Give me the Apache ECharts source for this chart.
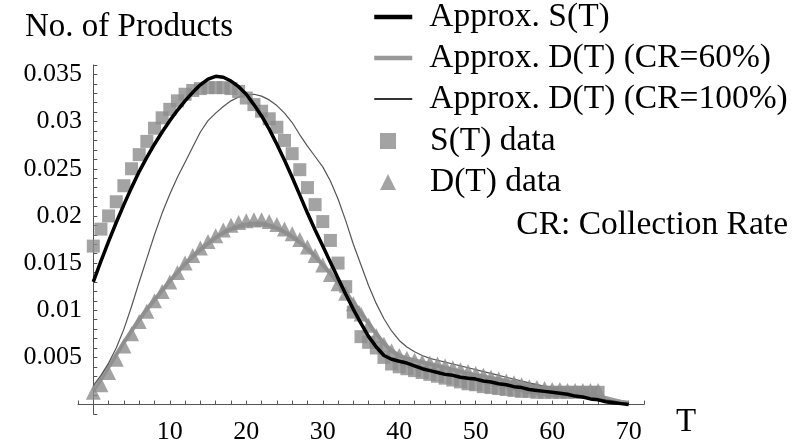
<!DOCTYPE html>
<html>
<head>
<meta charset="utf-8">
<script src="https://cdn.jsdelivr.net/npm/echarts@6/dist/echarts.min.js"></script>
<style>
html,body{margin:0;padding:0;background:#fff;}
#chart{width:805px;height:443px;}
</style>
</head>
<body>
<div id="chart"></div>
<script>
// T values for the approximation curves
const tLine = [0,1,2,3,4,5,6,7,8,9,10,11,12,13,14,15,16,17,18,19,20,21,22,23,24,25,26,27,28,29,30,31,32,33,34,35,36,37,38,39,40,41,42,43,44,45,46,47,48,49,50,51,52,53,54,55,56,57,58,59,60,61,62,63,64,65,66,67,68,69,70];
// T values for the data points
const tData = [0,1,2,3,4,5,6,7,8,9,10,11,12,13,14,15,16,17,18,19,20,21,22,23,24,25,26,27,28,29,30,31,32,33,34,35,36,37,38,39,40,41,42,43,44,45,46,47,48,49,50,51,52,53,54,55,56,57,58,59,60,61,62,63,64,65,66];

const approxS = [0.0130,0.0152,0.0173,0.0193,0.0212,0.0230,0.0247,0.0262,0.0276,0.0289,0.0301,0.0312,0.0322,0.0331,0.0339,0.0345,0.0348,0.0347,0.0343,0.0337,0.0329,0.0318,0.0306,0.0292,0.0276,0.0259,0.0241,0.0222,0.0203,0.0185,0.0168,0.0151,0.0134,0.0117,0.0101,0.0086,0.0072,0.0061,0.0052,0.0048,0.0046,0.0044,0.0041,0.0038,0.0036,0.0034,0.0032,0.0031,0.0029,0.0028,0.0027,0.0025,0.0024,0.0022,0.0021,0.0019,0.0018,0.0016,0.0015,0.0014,0.0013,0.0012,0.0011,0.0009,0.0008,0.0006,0.0005,0.0003,0.0002,0.0001,0.0000];

const approxD60 = [0.0015,0.0027,0.0040,0.0053,0.0066,0.0078,0.0090,0.0101,0.0111,0.0121,0.0131,0.0140,0.0149,0.0157,0.0164,0.0171,0.0177,0.0182,0.0186,0.0189,0.0191,0.0192,0.0192,0.0190,0.0187,0.0183,0.0178,0.0172,0.0165,0.0157,0.0148,0.0139,0.0129,0.0119,0.0108,0.0097,0.0086,0.0075,0.0065,0.0057,0.0052,0.0049,0.0047,0.0045,0.0043,0.0041,0.0039,0.0037,0.0035,0.0033,0.0031,0.0030,0.0028,0.0027,0.0025,0.0024,0.0022,0.0021,0.0020,0.0018,0.0017,0.0016,0.0014,0.0013,0.0012,0.0010,0.0008,0.0007,0.0005,0.0003,0.0002];

const approxD100 = [0.0020,0.0031,0.0044,0.0060,0.0080,0.0104,0.0130,0.0155,0.0180,0.0203,0.0223,0.0241,0.0257,0.0273,0.0289,0.0301,0.0309,0.0316,0.0322,0.0326,0.0328,0.0329,0.0327,0.0323,0.0317,0.0309,0.0299,0.0286,0.0274,0.0263,0.0252,0.0237,0.0218,0.0195,0.0170,0.0148,0.0126,0.0107,0.0091,0.0078,0.0068,0.0061,0.0056,0.0052,0.0049,0.0047,0.0045,0.0043,0.0041,0.0039,0.0037,0.0035,0.0033,0.0031,0.0029,0.0027,0.0025,0.0023,0.0021,0.0019,0.0017,0.0015,0.0013,0.0012,0.0010,0.0008,0.0007,0.0005,0.0004,0.0002,0.0001];

const sData = [0.0168,0.0186,0.0200,0.0215,0.0232,0.0250,0.0265,0.0279,0.0293,0.0304,0.0313,0.0322,0.0329,0.0333,0.0335,0.0336,0.0336,0.0336,0.0335,0.0332,0.0325,0.0318,0.0311,0.0303,0.0294,0.0280,0.0266,0.0249,0.0230,0.0212,0.0194,0.0174,0.0150,0.0125,0.0098,0.0072,0.0066,0.0060,0.0050,0.0043,0.0040,0.0038,0.0036,0.0034,0.0032,0.0030,0.0028,0.0026,0.0024,0.0022,0.0021,0.0019,0.0018,0.0017,0.0016,0.0015,0.0014,0.0014,0.0013,0.0013,0.0013,0.0013,0.0013,0.0013,0.0013,0.0013,0.0013];

const dData = [0.0013,0.0021,0.0034,0.0048,0.0062,0.0075,0.0088,0.0099,0.0110,0.0120,0.0130,0.0140,0.0150,0.0158,0.0166,0.0173,0.0179,0.0185,0.0190,0.0193,0.0195,0.0196,0.0196,0.0194,0.0191,0.0186,0.0181,0.0175,0.0167,0.0158,0.0148,0.0138,0.0128,0.0118,0.0107,0.0096,0.0084,0.0073,0.0064,0.0057,0.0052,0.0049,0.0047,0.0045,0.0044,0.0043,0.0041,0.0039,0.0037,0.0035,0.0033,0.0031,0.0029,0.0027,0.0025,0.0023,0.0021,0.0019,0.0018,0.0017,0.0016,0.0016,0.0015,0.0015,0.0015,0.0015,0.0015];

const seriesNames = ['Approx. S(T)','Approx. D(T) (CR=60%)','Approx. D(T) (CR=100%)','S(T) data','D(T) data'];
const yTitle = 'No. of Products';
const xTitle = 'T';
const note = 'CR: Collection Rate';

function pairs(t, v){ return t.map((x,i)=>[x, v[i]]); }

const FONT = '"Liberation Serif","Times New Roman",serif';
const chart = echarts.init(document.getElementById('chart'), null, {renderer:'canvas'});

chart.setOption({
  backgroundColor:'#fff',
  animation:false,
  title:[
    {text:yTitle, left:20, top:6, textStyle:{fontFamily:FONT, fontSize:33, fontWeight:'normal', color:'#000'}},
    {text:note, right:12, top:203, textStyle:{fontFamily:FONT, fontSize:33.5, fontWeight:'normal', color:'#000'}},
    {text:xTitle, left:671, top:401, textStyle:{fontFamily:FONT, fontSize:33, fontWeight:'normal', color:'#000'}}
  ],
  legend:[
    {data:[
       {name:seriesNames[0], lineStyle:{width:4.5, color:'#000'}},
       {name:seriesNames[1], lineStyle:{width:4.5, color:'#999'}},
       {name:seriesNames[2], lineStyle:{width:1.8, color:'#333'}}
     ], orient:'vertical', left:372, top:0, padding:0,
     itemWidth:38, itemHeight:14, itemGap:7,
     itemStyle:{opacity:0},
     textStyle:{fontFamily:FONT, fontSize:33.5, color:'#000', lineHeight:34, padding:[0,0,0,12]}},
    {data:[seriesNames[3],seriesNames[4]], orient:'vertical', left:380, top:124, padding:0,
     itemWidth:16, itemHeight:16, itemGap:7,
     textStyle:{fontFamily:FONT, fontSize:33.5, color:'#000', lineHeight:34, padding:[0,0,0,29]}}
  ],
  grid:{left:78, right:161, top:65, bottom:29, containLabel:false, outerBoundsMode:'none'},
  xAxis:{
    type:'value', min:-2, max:72, interval:2,
    axisLine:{onZero:true, lineStyle:{color:'#555', width:1}},
    axisTick:{show:true, inside:true, length:4, lineStyle:{color:'#555'}},
    axisLabel:{fontFamily:FONT, fontSize:26, color:'#000', margin:5,
      formatter:function(v){ return (v>0 && Math.round(v)%10===0) ? String(Math.round(v)) : ''; }},
    splitLine:{show:false}
  },
  yAxis:{
    type:'value', min:-0.001, max:0.036, interval:0.001,
    axisLine:{show:true, onZero:true, lineStyle:{color:'#555', width:1}},
    axisTick:{show:true, inside:true, length:4, lineStyle:{color:'#555'}},
    axisLabel:{fontFamily:FONT, fontSize:26, color:'#000', margin:-4,
      formatter:function(v){ const k=Math.round(v*1000); return (k>0 && k%5===0) ? String(k/1000) : ''; }},
    splitLine:{show:false}
  },
  series:[
    {name:seriesNames[1], type:'line', data:pairs(tLine, approxD60), symbol:'none', z:2,
     lineStyle:{color:'#999', width:4}, itemStyle:{color:'#999'}},
    {name:seriesNames[2], type:'line', data:pairs(tLine, approxD100), symbol:'none', z:3,
     lineStyle:{color:'#555', width:1.2}, itemStyle:{color:'#555'}},
    {name:seriesNames[3], type:'scatter', data:pairs(tData, sData), symbol:'rect', symbolSize:13, z:4,
     itemStyle:{color:'#8c8c8c'}},
    {name:seriesNames[4], type:'scatter', data:pairs(tData, dData), symbol:'triangle', symbolSize:15, z:5,
     itemStyle:{color:'#8c8c8c'}},
    {name:seriesNames[0], type:'line', data:pairs(tLine, approxS), symbol:'none', z:6,
     lineStyle:{color:'#000', width:3.5}, itemStyle:{color:'#000'}}
  ]
});
</script>
</body>
</html>
